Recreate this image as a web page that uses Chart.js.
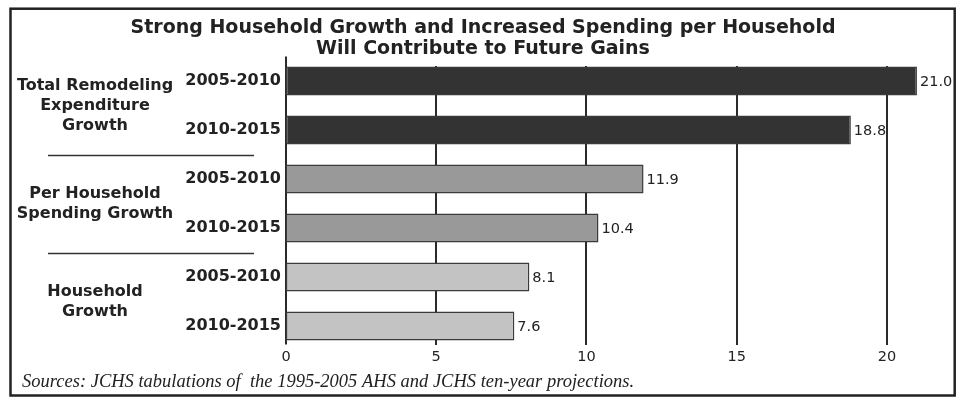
<!DOCTYPE html>
<html>
<head>
<meta charset="utf-8">
<script src="https://cdn.jsdelivr.net/npm/chart.js@4.4.1/dist/chart.umd.min.js"></script>
<style>
  body { margin: 0; background: #fff; }
  #wrap { width: 964px; height: 397px; }
</style>
</head>
<body>
<div id="wrap"><canvas id="remodelChart" width="964" height="397"></canvas></div>
<script>
// Data
const periods = ["2005-2010", "2010-2015", "2005-2010", "2010-2015", "2005-2010", "2010-2015"];
const growthValues = [21.0, 18.8, 11.9, 10.4, 8.1, 7.6];
const groupLabels = [
    ["Total Remodeling", "Expenditure", "Growth"],
    ["Per Household", "Spending Growth"],
    ["Household", "Growth"],
];
const xTicks = [0, 5, 10, 15, 20];
const titleLines = ["Strong Household Growth and Increased Spending per Household", "Will Contribute to Future Gains"];
const sourceNote = "Sources: JCHS tabulations of  the 1995-2005 AHS and JCHS ten-year projections.";

const barColors = ["#333333", "#333333", "#999999", "#999999", "#c3c3c3", "#c3c3c3"];
const ink = "#222222";

// Title, group labels, gridlines, value labels and frame
const decorations = {
    id: "decorations",
    beforeDatasetsDraw(chart) {
        const { ctx, chartArea, scales } = chart;
        ctx.save();
        ctx.strokeStyle = "#2a2a2a";
        ctx.lineWidth = 2;
        // gridlines (shorter than the plot area, as in the original)
        xTicks.forEach((v) => {
            if (v === 0) return;
            const x = Math.round(scales.x.getPixelForValue(v));
            ctx.beginPath();
            ctx.moveTo(x, chartArea.top + 9.5);
            ctx.lineTo(x, chartArea.bottom - 5.5);
            ctx.stroke();
        });
        // left axis line
        const x0 = Math.round(scales.x.getPixelForValue(0));
        ctx.beginPath();
        ctx.moveTo(x0, chartArea.top);
        ctx.lineTo(x0, chartArea.bottom - 6);
        ctx.stroke();
        ctx.restore();
    },
    afterDatasetsDraw(chart) {
        const { ctx, scales } = chart;
        ctx.save();
        // values at the end of bars
        ctx.font = "14.5px 'DejaVu Sans'";
        ctx.fillStyle = ink;
        ctx.textAlign = "left";
        ctx.textBaseline = "middle";
        chart.getDatasetMeta(0).data.forEach((bar, i) => {
            ctx.fillText(growthValues[i].toFixed(1), bar.x + 3, bar.y + 1);
        });

        // group labels and separators
        ctx.font = "bold 16px 'DejaVu Sans'";
        ctx.textAlign = "center";
        groupLabels.forEach((lines, g) => {
            const yc = (scales.y.getPixelForValue(g * 2) + scales.y.getPixelForValue(g * 2 + 1)) / 2;
            const start = yc - ((lines.length - 1) * 20) / 2;
            lines.forEach((line, i) => ctx.fillText(line, 95, start + i * 20));
            if (g > 0) {
                const ys = (scales.y.getPixelForValue(g * 2 - 1) + scales.y.getPixelForValue(g * 2)) / 2;
                ctx.strokeStyle = "#333";
                ctx.lineWidth = 1.5;
                ctx.beginPath();
                ctx.moveTo(48, Math.round(ys) + 0.5);
                ctx.lineTo(254, Math.round(ys) + 0.5);
                ctx.stroke();
            }
        });

        // title
        ctx.font = "bold 19px 'DejaVu Sans'";
        ctx.textBaseline = "alphabetic";
        titleLines.forEach((line, i) => ctx.fillText(line, 483, 32.7 + i * 21));

        // source note
        ctx.font = "italic 18.5px 'Liberation Serif'";
        ctx.textAlign = "left";
        ctx.fillText(sourceNote, 22, 386.5);

        // frame
        ctx.strokeStyle = ink;
        ctx.lineWidth = 2.5;
        ctx.strokeRect(10.5, 8.7, 944.2, 386.8);
        ctx.restore();
    },
};

const ctx = document.getElementById("remodelChart").getContext("2d");
new Chart(ctx, {
    type: "bar",
    data: {
        labels: periods,
        datasets: [
            {
                data: growthValues,
                backgroundColor: barColors,
                borderColor: "#3a3a3a",
                borderWidth: 1.5,
                borderSkipped: false,
                barPercentage: 0.59,
                categoryPercentage: 1.0,
            },
        ],
    },
    options: {
        indexAxis: "y",
        responsive: false,
        animation: false,
        layout: { padding: { left: 10, right: 17, top: 56.5, bottom: 26.5 } },
        plugins: {
            legend: { display: false },
            title: { display: false },
            tooltip: { enabled: false },
        },
        scales: {
            x: {
                min: 0,
                max: 22,
                grid: { display: false, drawTicks: false },
                border: { display: false },
                afterBuildTicks: (scale) => {
                    scale.ticks = xTicks.map((v) => ({ value: v }));
                },
                afterFit: (scale) => {
                    scale.height = 20;
                },
                ticks: {
                    padding: -2,
                    color: ink,
                    font: { family: "DejaVu Sans", size: 14.5 },
                    maxRotation: 0,
                },
            },
            y: {
                grid: { display: false, drawTicks: false },
                border: { display: false },
                afterFit: (scale) => {
                    scale.width = 276;
                },
                ticks: {
                    padding: 5,
                    color: ink,
                    font: { family: "DejaVu Sans", size: 16, weight: "bold" },
                },
            },
        },
    },
    plugins: [decorations],
});
</script>
</body>
</html>
